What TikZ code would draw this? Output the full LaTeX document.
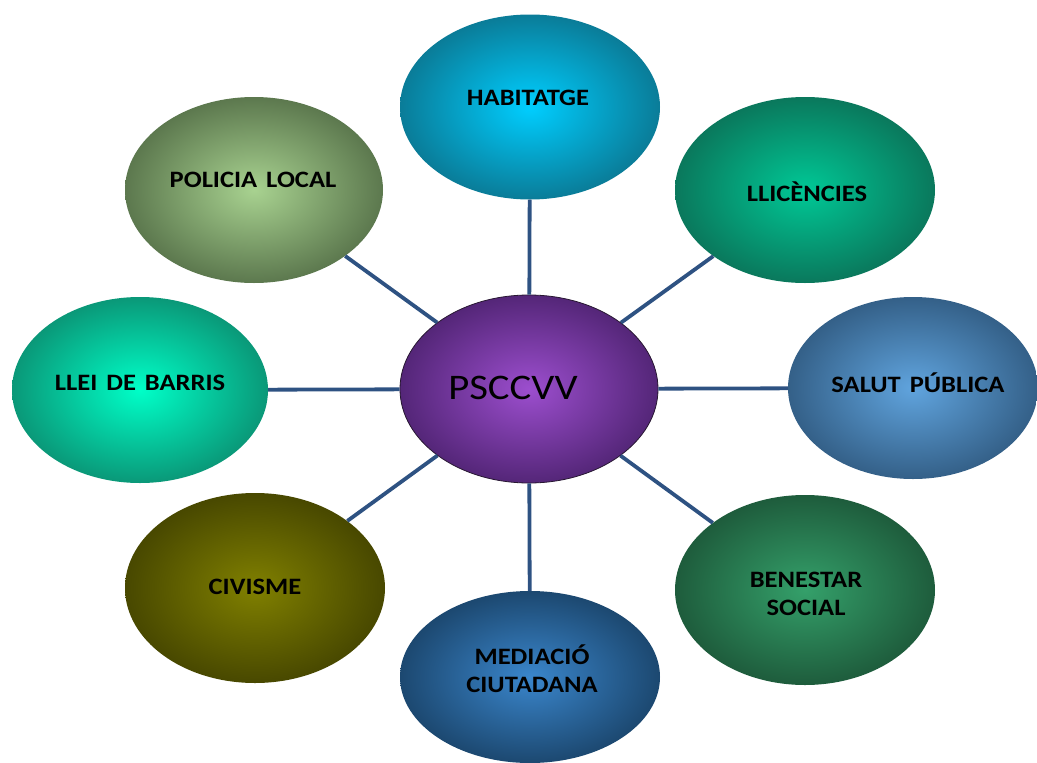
\documentclass[tikz,border=0pt]{standalone}
\usepackage{fontspec}
\setmainfont{Carlito}
\newfontfamily\lblfont[FakeStretch=1.13]{Carlito}
\usetikzlibrary{shapes.geometric}
\definecolor{connc}{RGB}{46,82,130}
\definecolor{habin}{RGB}{0,206,255}\definecolor{habout}{RGB}{10,124,152}
\definecolor{llcin}{RGB}{0,200,150}\definecolor{llcout}{RGB}{10,120,92}
\definecolor{salin}{RGB}{96,164,222}\definecolor{salout}{RGB}{52,96,136}
\definecolor{benin}{RGB}{52,160,106}\definecolor{benout}{RGB}{30,92,60}
\definecolor{medin}{RGB}{58,134,204}\definecolor{medout}{RGB}{28,72,112}
\definecolor{civin}{RGB}{128,128,0}\definecolor{civout}{RGB}{72,72,0}
\definecolor{llein}{RGB}{0,255,200}\definecolor{lleout}{RGB}{10,152,120}
\definecolor{polin}{RGB}{168,210,144}\definecolor{polout}{RGB}{92,120,78}
\definecolor{cenin}{RGB}{156,78,206}\definecolor{cenout}{RGB}{84,38,120}
\definecolor{cenline}{RGB}{40,24,50}
\newcommand{\wsp}{\hspace{0.38em}}
\begin{document}
\begin{tikzpicture}[x=1pt,y=-1pt,
  bubble/.style={ellipse, draw=none, inner sep=0pt, minimum width=260pt, minimum height=186pt, shading=radial},
  lbl/.style={font=\lblfont\fontsize{23.5}{28}\selectfont\bfseries, text=black, align=center, inner sep=0pt},
  conn/.style={draw=connc, line width=3.8pt}]
\useasboundingbox (0,0) rectangle (1037,763);
\clip (0,0) rectangle (1037,763);
% outer bubbles
\node[bubble, minimum height=185pt, inner color=habin, outer color=habout] (hab) at (530,107) {};
\node[bubble, inner color=llcin, outer color=llcout] (llc) at (805,190) {};
\node[bubble, minimum width=250pt, minimum height=182pt, inner color=salin, outer color=salout] (sal) at (913,388) {};
\node[bubble, minimum height=190pt, inner color=benin, outer color=benout] (ben) at (805,590) {};
\node[bubble, minimum height=172pt, inner color=medin, outer color=medout] (med) at (530,677) {};
\node[bubble, minimum height=190pt, inner color=civin, outer color=civout] (civ) at (255,588) {};
\node[bubble, minimum width=256pt, inner color=llein, outer color=lleout] (lle) at (140,390) {};
\node[bubble, minimum width=258pt, inner color=polin, outer color=polout] (pol) at (254,190) {};
% centre
\node[bubble, minimum width=258pt, minimum height=188pt, inner color=cenin, outer color=cenout, draw=cenline, line width=0.8pt] (cen) at (529,389) {};
% connectors
\draw[conn] (cen) -- (hab);
\draw[conn] (cen) -- (llc);
\draw[conn] (cen) -- (sal);
\draw[conn] (cen) -- (ben);
\draw[conn] (cen) -- (med);
\draw[conn] (cen) -- (civ);
\draw[conn] (cen) -- (lle);
\draw[conn] (cen) -- (pol);
% labels
\node[font=\lblfont\fontsize{36}{40}\selectfont, text=black, inner sep=0pt] (cent) at (513,388) {PSCCVV};
\node[lbl] (habt) at (528,98) {HABITATGE};
\node[lbl] (llct) at (807,192) {LLICÈNCIES};
\node[lbl] (salt) at (918,383) {SALUT\wsp PÚBLICA};
\node[lbl] (bent) at (806,594) {BENESTAR\\SOCIAL};
\node[lbl] (medt) at (532,669) {MEDIACIÓ\\CIUTADANA};
\node[lbl] (civt) at (255,587) {CIVISME};
\node[lbl] (llet) at (140,383) {LLEI\wsp DE\wsp BARRIS};
\node[lbl] (polt) at (253,180) {POLICIA\wsp LOCAL};
\end{tikzpicture}
\end{document}
